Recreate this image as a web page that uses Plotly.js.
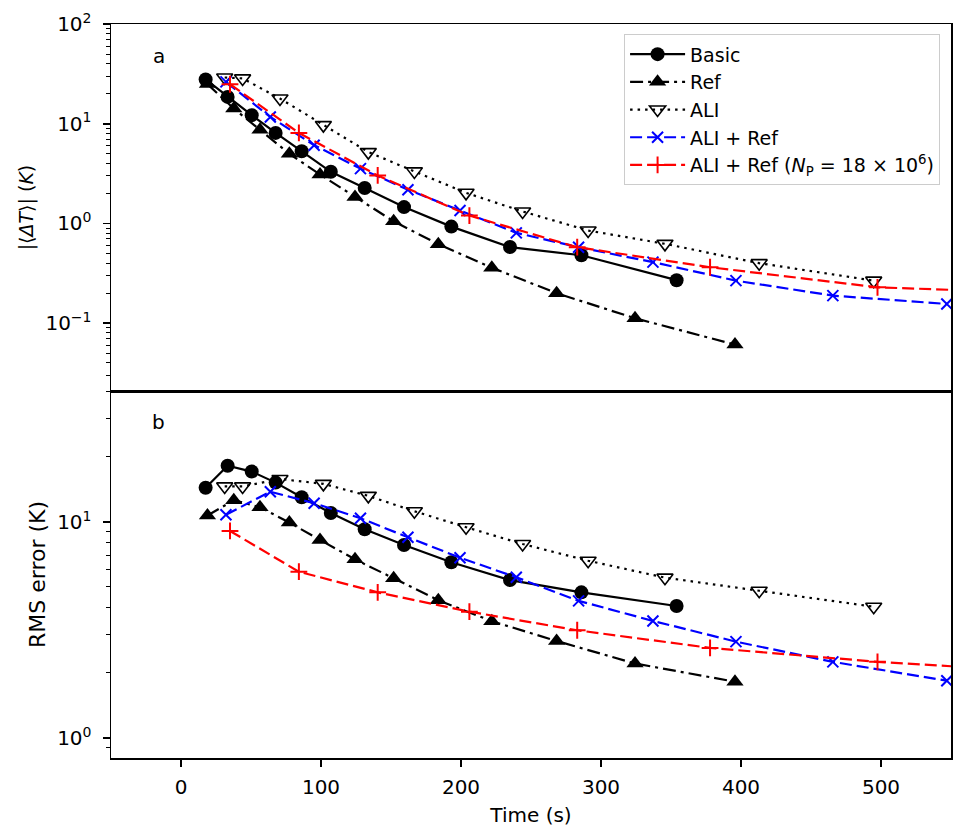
<!DOCTYPE html>
<html>
<head>
<meta charset="utf-8">
<script src="https://cdn.plot.ly/plotly-3.0.1.min.js"></script>
<style>html,body{margin:0;padding:0;background:#fff;}#chart{width:974px;height:839px;}</style>
</head>
<body>
<div id="chart"></div>
<script>
// Time (s) for each method
const tBasic  = [17.6, 33.3, 50.5, 67.6, 86.2, 107.0, 131.2, 159.3, 193.1, 235.0, 286.0, 354.0];
const tRef    = [18.9, 37.7, 56.4, 77.4, 99.3, 124.3, 151.9, 183.8, 222.0, 268.3, 324.3, 395.7];
const tALI    = [31.2, 44.0, 70.7, 101.7, 133.8, 166.7, 203.6, 244.0, 290.8, 345.7, 413.0, 494.8];
const tALIRef = [32.1, 63.8, 95.1, 128.2, 162.1, 199.3, 239.5, 284.0, 337.1, 396.4, 465.6, 547.0];
const tALIRefNP = [35.0, 84.2, 140.5, 206.0, 283.0, 377.9, 497.5, 640.0];

// Panel a: |<ΔT>| (K)
const aBasic  = [27.8, 18.6, 12.2, 8.1, 5.3, 3.3, 2.27, 1.46, 0.93, 0.58, 0.48, 0.27];
const aRef    = [25.0, 14.2, 8.7, 5.0, 3.1, 1.84, 1.05, 0.62, 0.36, 0.20, 0.112, 0.061];
const aALI    = [29.1, 28.5, 17.9, 9.7, 5.2, 3.33, 2.03, 1.32, 0.85, 0.625, 0.40, 0.267];
const aALIRef = [26.3, 11.7, 6.1, 3.55, 2.18, 1.35, 0.805, 0.578, 0.41, 0.267, 0.189, 0.156];
const aALIRefNP = [24.9, 8.1, 3.03, 1.2, 0.578, 0.364, 0.229, 0.195];

// Panel b: RMS error (K)
const bBasic  = [14.4, 18.2, 17.1, 15.2, 13.0, 11.0, 9.25, 7.82, 6.5, 5.38, 4.72, 4.08];
const bRef    = [10.7, 12.6, 11.7, 9.93, 8.25, 6.71, 5.48, 4.34, 3.47, 2.81, 2.21, 1.82];
const bALI    = [14.6, 14.6, 15.8, 15.0, 13.2, 11.2, 9.45, 7.9, 6.61, 5.52, 4.80, 4.05];
const bALIRef = [10.8, 13.8, 12.2, 10.4, 8.49, 6.83, 5.54, 4.31, 3.48, 2.79, 2.25, 1.84];
const bALIRefNP = [9.08, 5.88, 4.72, 3.84, 3.15, 2.61, 2.25, 1.98];

const names = ['Basic', 'Ref', 'ALI', 'ALI + Ref', 'ALI + Ref (<i>N</i><sub>P</sub> = 18 × 10<sup>6</sup>)'];
const xTicks = [0, 100, 200, 300, 400, 500];
const yTopTicks = [0.1, 1, 10, 100];
const yTopText = ['10<sup>−1</sup>', '10<sup>0</sup>', '10<sup>1</sup>', '10<sup>2</sup>'];
const yBotTicks = [1, 10];
const yBotText = ['10<sup>0</sup>', '10<sup>1</sup>'];

const styles = [
  {line:{color:'black', width:2.2, dash:'solid'}, marker:{symbol:'circle', size:14, color:'black'}},
  {line:{color:'black', width:2.2, dash:'13px,5px,3px,5px'}, marker:{symbol:'triangle-up', size:15, color:'black'}},
  {line:{color:'black', width:2.2, dash:'2.5px,5px'}, marker:{symbol:'triangle-down-open', size:14, color:'black', line:{color:'black', width:1.6}}},
  {line:{color:'blue', width:2.2, dash:'12px,5px'}, marker:{symbol:'x-thin', size:11, color:'blue', line:{color:'blue', width:2}}},
  {line:{color:'red', width:2.2, dash:'12px,5px'}, marker:{symbol:'cross-thin', size:12, color:'red', line:{color:'red', width:2}}}
];
const times = [tBasic, tRef, tALI, tALIRef, tALIRefNP];
const aVals = [aBasic, aRef, aALI, aALIRef, aALIRefNP];
const bVals = [bBasic, bRef, bALI, bALIRef, bALIRefNP];

const traces = [];
for (let i = 0; i < 5; i++) {
  traces.push(Object.assign({x: times[i], y: aVals[i], name: names[i], type:'scatter', mode:'lines+markers',
    xaxis:'x', yaxis:'y', showlegend:true, legendgroup:'g'+i, cliponaxis:true}, JSON.parse(JSON.stringify(styles[i]))));
}
for (let i = 0; i < 5; i++) {
  traces.push(Object.assign({x: times[i], y: bVals[i], name: names[i], type:'scatter', mode:'lines+markers',
    xaxis:'x2', yaxis:'y2', showlegend:false, legendgroup:'g'+i, cliponaxis:true}, JSON.parse(JSON.stringify(styles[i]))));
}

function minorVals(lo, hi) {
  const v = [];
  for (let e = lo; e <= hi; e++) for (let m = 2; m <= 9; m++) v.push(m * Math.pow(10, e));
  return v;
}

const FF = 'DejaVu Sans, sans-serif';
const font = {family:FF, size:20, color:'black'};
const axisCommon = {showline:true, linecolor:'black', linewidth:1.5, mirror:true, showgrid:false, zeroline:false,
  ticks:'outside', ticklen:7, tickwidth:1.5, tickcolor:'black', tickfont:{family:FF, size:20, color:'black'}};

const layout = {
  width:974, height:839, paper_bgcolor:'white', plot_bgcolor:'white', font:font,
  margin:{l:111, r:23, t:24, b:81},
  showlegend:true,
  legend:{x:0.987, y:0.986, xanchor:'right', yanchor:'top', bgcolor:'rgba(255,255,255,0.85)', bordercolor:'#cccccc', borderwidth:1,
    font:{family:FF, size:19, color:'black'}, tracegroupgap:0, itemwidth:55},
  xaxis: Object.assign({}, axisCommon, {domain:[0,1], anchor:'y', range:[-50,550], matches:'x2', showticklabels:false, ticks:''}),
  yaxis: Object.assign({}, axisCommon, {domain:[0.5,1], anchor:'x', type:'log', range:[-1.68, 2.0005],
    tickmode:'array', tickvals:yTopTicks, ticktext:yTopText, ticklabelstandoff:7,
    minor:{tickmode:'array', tickvals:minorVals(-2, 1), ticks:'outside', ticklen:4, tickwidth:1, tickcolor:'black', showgrid:false},
    title:{text:'|⟨<i>ΔT</i>⟩| (<i>K</i>)', font:{family:FF, size:19, color:'black'}, standoff:7}}),
  xaxis2: Object.assign({}, axisCommon, {domain:[0,1], anchor:'y2', range:[-50,550], tickmode:'array', tickvals:xTicks, ticklabelstandoff:3,
    title:{text:'Time (s)', font:{family:FF, size:20, color:'black'}, standoff:10}}),
  yaxis2: Object.assign({}, axisCommon, {domain:[0,0.5], anchor:'x2', type:'log', range:[-0.093, 1.606],
    tickmode:'array', tickvals:yBotTicks, ticktext:yBotText, ticklabelstandoff:7,
    minor:{tickmode:'array', tickvals:[0.9].concat(minorVals(0, 1)), ticks:'outside', ticklen:4, tickwidth:1, tickcolor:'black', showgrid:false},
    title:{text:'RMS error (K)', font:{family:FF, size:22, color:'black'}, standoff:5}}),
  annotations:[
    {text:'a', xref:'paper', yref:'paper', x:0.057, y:0.957, xanchor:'center', yanchor:'middle', showarrow:false, font:{family:FF, size:20, color:'black'}},
    {text:'b', xref:'paper', yref:'paper', x:0.057, y:0.458, xanchor:'center', yanchor:'middle', showarrow:false, font:{family:FF, size:20, color:'black'}}
  ]
};

Plotly.newPlot('chart', traces, layout, {displayModeBar:false, staticPlot:true});
</script>
</body>
</html>
